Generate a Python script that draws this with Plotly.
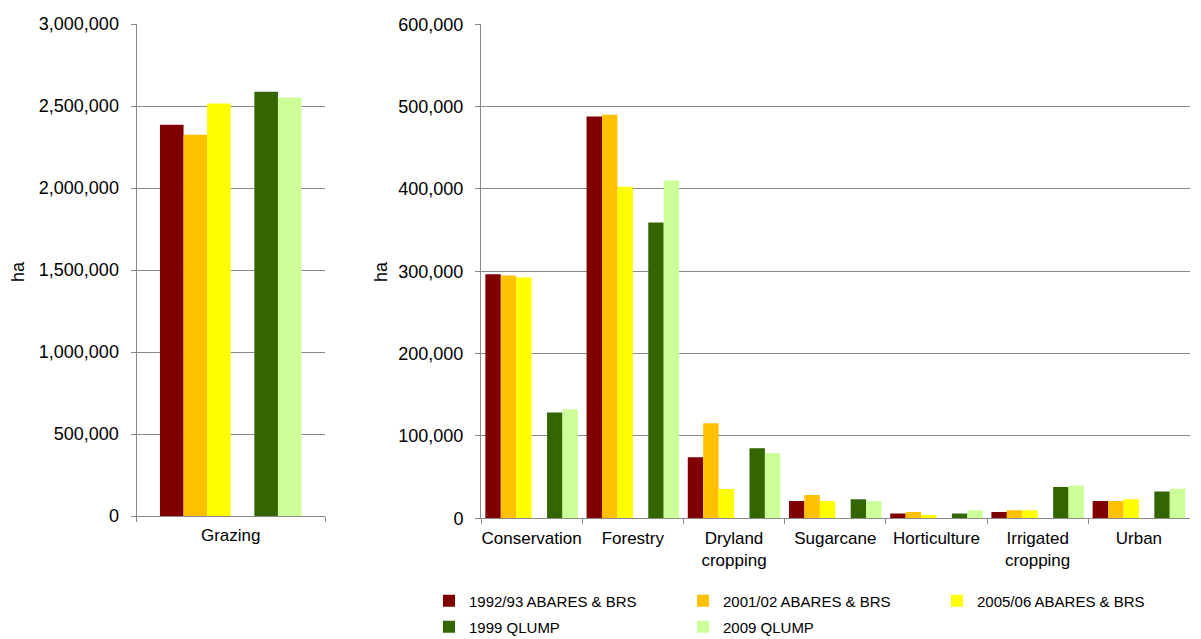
import plotly.graph_objects as go

# ---------------- data ----------------
left_categories = ["Grazing"]
right_categories = ["Conservation", "Forestry", "Dryland<br>cropping", "Sugarcane",
                    "Horticulture", "Irrigated<br>cropping", "Urban"]

series_names = ["1992/93 ABARES & BRS", "2001/02 ABARES & BRS", "2005/06 ABARES & BRS",
                "1999 QLUMP", "2009 QLUMP"]

grazing_1992 = [2386000]
grazing_2001 = [2325000]
grazing_2005 = [2515000]
grazing_1999q = [2587000]
grazing_2009q = [2552000]

other_1992 = [296500, 487900, 74000, 21000, 5700, 7700, 21000]
other_2001 = [294800, 490000, 115500, 28300, 7700, 9700, 21000]
other_2005 = [292600, 402600, 35600, 21000, 4000, 9700, 23100]
other_1999q = [128600, 359300, 85000, 23100, 5700, 38000, 32400]
other_2009q = [132500, 410400, 79400, 21000, 9700, 39700, 36000]

left_ticks = [0, 500000, 1000000, 1500000, 2000000, 2500000, 3000000]
right_ticks = [0, 100000, 200000, 300000, 400000, 500000, 600000]

# ---------------- style ----------------
colors = ["#800000", "#FFC000", "#FFFF00", "#336600", "#CCFF99"]
slots = [0, 1, 2, 4, 5]          # one empty slot between the two data sources
W, H = 1201, 639
FONT = "Liberation Sans, Arial, sans-serif"
GRID = "#898989"

lw = 0.1252   # bar width, left panel (category units)
l0 = -0.3756
rw = 0.1524   # bar width, right panel
r0 = -0.457

left_vals = [grazing_1992, grazing_2001, grazing_2005, grazing_1999q, grazing_2009q]
right_vals = [other_1992, other_2001, other_2005, other_1999q, other_2009q]

fig = go.Figure()
for i, name in enumerate(series_names):
    leg = "legend" if i < 3 else "legend2"
    fig.add_trace(go.Bar(
        x=left_categories, y=left_vals[i], name=name,
        xaxis="x", yaxis="y",
        offset=l0 + slots[i] * lw, width=lw,
        marker=dict(color=colors[i], line=dict(width=0)),
        legendgroup=name, legend=leg, showlegend=True,
    ))
for i, name in enumerate(series_names):
    fig.add_trace(go.Bar(
        x=right_categories, y=right_vals[i], name=name,
        xaxis="x2", yaxis="y2",
        offset=r0 + slots[i] * rw, width=rw,
        marker=dict(color=colors[i], line=dict(width=0)),
        legendgroup=name, showlegend=False,
    ))

xtickfont = dict(family=FONT, size=17, color="#000000")
ytickfont = dict(family=FONT, size=18, color="#000000")

xaxis_common = dict(
    type="category", showline=True, linecolor=GRID, linewidth=1,
    ticks="outside", tickson="boundaries", ticklen=5, tickcolor=GRID,
    showgrid=False, zeroline=False, tickfont=xtickfont, ticklabelstandoff=4,
    tickangle=0, automargin=False, fixedrange=True,
)
yaxis_common = dict(
    showline=True, linecolor=GRID, linewidth=1,
    ticks="outside", ticklen=5, tickcolor=GRID,
    showgrid=True, gridcolor=GRID, gridwidth=1, zeroline=False,
    tickfont=ytickfont, tickformat=",d", ticklabelstandoff=8,
    automargin=False, fixedrange=True,
)

legfont = dict(family=FONT, size=15, color="#000000")

fig.update_layout(
    width=W, height=H,
    margin=dict(l=0, r=0, t=0, b=0, autoexpand=False),
    paper_bgcolor="white", plot_bgcolor="white",
    barmode="overlay",
    font=dict(family=FONT, size=17, color="#000000"),
    xaxis=dict(domain=[136.5 / W, 325 / W], range=[-0.5, 0.5], anchor="y", **xaxis_common),
    yaxis=dict(domain=[(H - 516) / H, (H - 24) / H], range=[0, 3000000],
               tickvals=left_ticks, anchor="x", **yaxis_common),
    xaxis2=dict(domain=[481 / W, 1189.5 / W], range=[-0.5, 6.5], anchor="y2", **xaxis_common),
    yaxis2=dict(domain=[(H - 518.3) / H, (H - 24.3) / H], range=[0, 600000],
                tickvals=right_ticks, anchor="x2", **yaxis_common),
    legend=dict(orientation="h", x=429 / W, xanchor="left", y=(H - 601) / H, yanchor="middle",
                entrywidth=209, entrywidthmode="pixels", font=legfont,
                bgcolor="rgba(0,0,0,0)", traceorder="normal"),
    legend2=dict(orientation="h", x=429 / W, xanchor="left", y=(H - 627) / H, yanchor="middle",
                 entrywidth=209, entrywidthmode="pixels", font=legfont,
                 bgcolor="rgba(0,0,0,0)", traceorder="normal"),
    annotations=[
        dict(text="ha", xref="paper", yref="paper", x=18 / W, y=(H - 272) / H,
             showarrow=False, textangle=-90, font=dict(family=FONT, size=18, color="#000000"),
             xanchor="center", yanchor="middle"),
        dict(text="ha", xref="paper", yref="paper", x=381 / W, y=(H - 272) / H,
             showarrow=False, textangle=-90, font=dict(family=FONT, size=18, color="#000000"),
             xanchor="center", yanchor="middle"),
    ],
)

fig.write_html("out.html")
